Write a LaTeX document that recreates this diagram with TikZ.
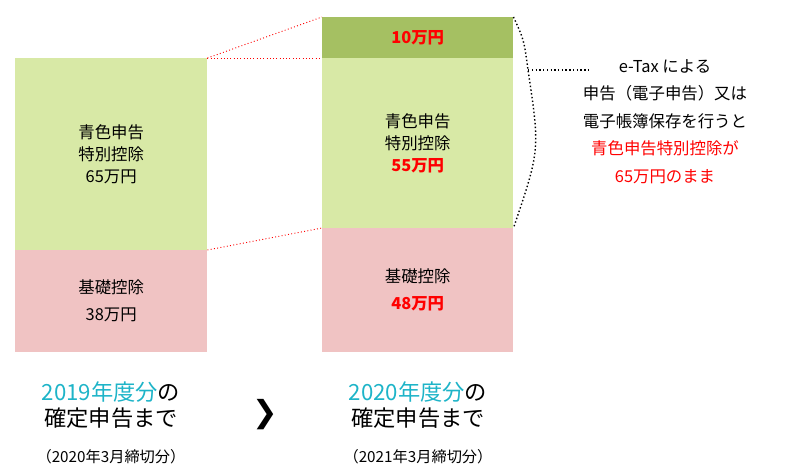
\documentclass[tikz,border=0pt]{standalone}
\usepackage{fontspec}
\setmainfont{Noto Sans CJK JP}
\newfontfamily\symfont{DejaVu Sans}
\usetikzlibrary{positioning}
\colorlet{lgreen}{green!55!yellow!25!white}
\definecolor{lgreen}{RGB}{216,233,166}
\definecolor{dgreen}{RGB}{165,192,98}
\definecolor{lpink}{RGB}{240,195,195}
\definecolor{tealtxt}{RGB}{30,180,200}
\tikzset{
  block/.style={inner sep=0pt, anchor=north west, align=center, font=\fontsize{14}{19}\selectfont},
  redlink/.style={red, dotted, thick},
  caption/.style={align=center, font=\fontsize{19}{22}\selectfont}
}
\begin{document}
\begin{tikzpicture}[x=0.03cm, y=-0.03cm]
\useasboundingbox (0,0) rectangle (810,476);

% 2019
\node[block, fill=lgreen, minimum width=5.76cm, minimum height=5.76cm] (G1) at (15,58) {青色申告\\特別控除\\65万円};
\node[block, fill=lpink, minimum width=5.76cm, minimum height=3.06cm] (P1) at (15,250) {基礎控除\\[4pt]38万円};

% 2020
\node[block, fill=dgreen, minimum width=5.73cm, minimum height=1.23cm, text=red, font=\fontsize{14}{19}\selectfont\bfseries] (D2) at (322,17) {10万円};
\node[block, fill=lgreen, minimum width=5.73cm, minimum height=5.1cm] (G2) at (322,58) {青色申告\\特別控除\\\textcolor{red}{\bfseries 55万円}};
\node[block, fill=lpink, minimum width=5.73cm, minimum height=3.72cm] (P2) at (322,228) {基礎控除\\[4pt]\textcolor{red}{\bfseries 48万円}};

% dotted links
\draw[redlink] (G1.north east) -- (D2.north west);
\draw[redlink] (G1.north east) -- (G2.north west);
\draw[redlink] (P1.north east) -- (P2.north west);

% bracket
\coordinate (tip) at (528,70);
\draw[black, dotted, very thick] (D2.north east) .. controls (524,40) .. (tip)
  .. controls (540,150) .. (P2.north east);
\coordinate (lineend) at (590,70);
\draw[black, dotted, very thick] (tip) -- (lineend);

\node[align=center, font=\fontsize{14}{23.5}\selectfont, anchor=north] (note) at (665,55)
  {e-Tax による\\申告（電子申告）又は\\電子帳簿保存を行うと\\\textcolor{red}{青色申告特別控除が}\\\textcolor{red}{65万円のまま}};

% captions
\node[caption] (C1) at (111,405) {\textcolor{tealtxt}{2019年度分}の\\確定申告まで};
\node[font=\fontsize{13}{15}\selectfont] (S1) at (111,457) {（2020年3月締切分）};
\node[caption] (C2) at (418,405) {\textcolor{tealtxt}{2020年度分}の\\確定申告まで};
\node[font=\fontsize{13}{15}\selectfont] (S2) at (418,457) {（2021年3月締切分）};
\node[font=\fontsize{26}{28}\symfont\bfseries] (arr) at (265,415) {❯};
\end{tikzpicture}
\end{document}
